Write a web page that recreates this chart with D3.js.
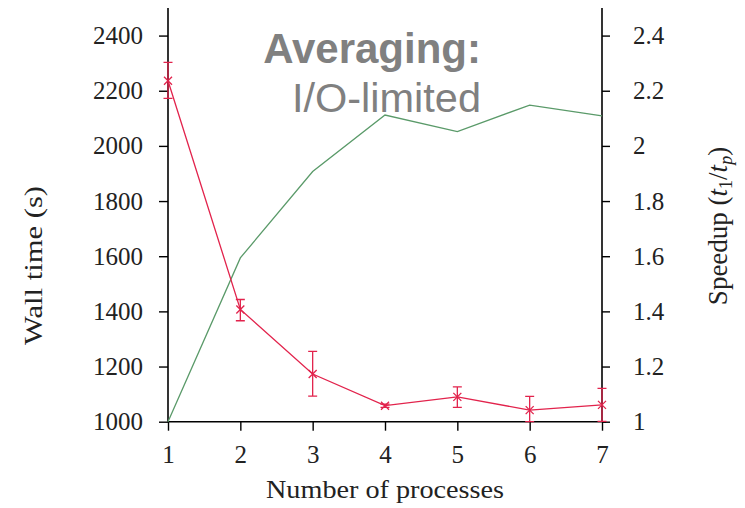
<!DOCTYPE html>
<html><head><meta charset="utf-8">
<script src="https://cdn.jsdelivr.net/npm/d3@7"></script>
<style>body{margin:0;background:#fff}</style>
</head><body>
<svg id="c" width="745" height="508"></svg>
<script>
const processes = [1, 2, 3, 4, 5, 6, 7];
const wallTime = [2236, 1407, 1173, 1058, 1090, 1042, 1061];
const wallLow  = [2172, 1366, 1093, 1052, 1052, 1000, 1001];
const wallHigh = [2303, 1443, 1255, 1064, 1126, 1092, 1121];
const speedup  = [1.0, 1.594, 1.907, 2.112, 2.052, 2.148, 2.109];
const leftTicks = [1000, 1200, 1400, 1600, 1800, 2000, 2200, 2400];
const rightTicks = [1, 1.2, 1.4, 1.6, 1.8, 2, 2.2, 2.4];
const rightTickLabels = ["1", "1.2", "1.4", "1.6", "1.8", "2", "2.2", "2.4"];

const svg = d3.select("#c");
const L = 168, R = 602, T = 8, B = 421.7;
const serif = "'Liberation Serif', 'Times New Roman', serif";
const red = "#e2234c", green = "#5a9a69";

const x = d3.scaleLinear().domain([1, 7]).range([L, R]);
const yL = d3.scaleLinear().domain([1000, 2500]).range([B, T]);
const yR = d3.scaleLinear().domain([1, 2.5]).range([B, T]);

// axes
const gl = svg.append("g").attr("transform", `translate(${L},0)`)
  .call(d3.axisLeft(yL).tickValues(leftTicks).tickSize(9).tickPadding(16).tickFormat(d3.format("d")));
const gr = svg.append("g").attr("transform", `translate(${R},0)`)
  .call(d3.axisRight(yR).tickValues(rightTicks).tickSize(8).tickPadding(23).tickFormat((d,i)=>rightTickLabels[i]));
const gb = svg.append("g").attr("transform", `translate(0,${B})`)
  .call(d3.axisBottom(x).tickValues(processes).tickSize(9).tickPadding(15).tickFormat(d3.format("d")));
[gl, gr, gb].forEach(g => {
  g.select(".domain").attr("stroke", "#000").attr("stroke-width", 1.6);
  g.selectAll(".tick line").attr("stroke", "#000").attr("stroke-width", 1.4);
  g.selectAll(".tick text").attr("font-family", serif).attr("font-size", 25).attr("fill", "#222");
});
gl.select(".domain").attr("d", `M0,${T}V${B}`);
gr.select(".domain").attr("d", `M0,${T}V${B}`);
gb.select(".domain").attr("d", `M${L},0H${R + 4}`);
gb.selectAll(".tick text").attr("dy", "0.71em");

// speedup line
svg.append("path").datum(processes.map((p, i) => [p, speedup[i]]))
  .attr("fill", "none").attr("stroke", green).attr("stroke-width", 1.3)
  .attr("d", d3.line().x(d => x(d[0])).y(d => yR(d[1])));

// wall time line
svg.append("path").datum(processes.map((p, i) => [p, wallTime[i]]))
  .attr("fill", "none").attr("stroke", red).attr("stroke-width", 1.3)
  .attr("d", d3.line().x(d => x(d[0])).y(d => yL(d[1])));

// error bars
const eb = svg.append("g").attr("stroke", red).attr("stroke-width", 1.3).attr("fill", "none");
processes.forEach((p, i) => {
  const cx = x(p), y1 = yL(wallLow[i]), y2 = yL(wallHigh[i]);
  eb.append("path").attr("d", `M${cx},${y1}V${y2}M${cx-4.5},${y1}H${cx+4.5}M${cx-4.5},${y2}H${cx+4.5}`);
  const cy = yL(wallTime[i]), s = 4;
  eb.append("path").attr("d", `M${cx-s},${cy-s}L${cx+s},${cy+s}M${cx-s},${cy+s}L${cx+s},${cy-s}`);
});

// annotation
svg.append("text").attr("x", 481).attr("y", 63).attr("text-anchor", "end")
  .attr("font-family", "'Liberation Sans', Arial, sans-serif").attr("font-weight", "bold")
  .attr("font-size", 42).attr("fill", "#808080").text("Averaging:");
svg.append("text").attr("x", 481).attr("y", 112).attr("text-anchor", "end")
  .attr("font-family", "'Liberation Sans', Arial, sans-serif")
  .attr("font-size", 41.5).attr("fill", "#808080").text("I/O-limited");

// axis titles
svg.append("text").attr("x", (L + R) / 2).attr("y", 498).attr("text-anchor", "middle")
  .attr("font-family", serif).attr("font-size", 25).attr("fill", "#222")
  .attr("textLength", 238).attr("lengthAdjust", "spacingAndGlyphs")
  .text("Number of processes");
svg.append("text").attr("transform", `translate(42,${(186+345)/2}) rotate(-90)`)
  .attr("text-anchor", "middle").attr("font-family", serif).attr("font-size", 25).attr("fill", "#222")
  .attr("textLength", 159).attr("lengthAdjust", "spacingAndGlyphs")
  .text("Wall time (s)");
const sp = svg.append("text").attr("transform", `translate(727,226) rotate(-90)`)
  .attr("text-anchor", "middle").attr("font-family", serif).attr("font-size", 27).attr("fill", "#222");
sp.append("tspan").text("Speedup (");
sp.append("tspan").attr("font-style", "italic").text("t");
sp.append("tspan").attr("font-size", 18).attr("dy", 5).text("1");
sp.append("tspan").attr("dy", -5).text("/");
sp.append("tspan").attr("font-style", "italic").text("t");
sp.append("tspan").attr("font-size", 18).attr("font-style", "italic").attr("dy", 5).text("p");
sp.append("tspan").attr("dy", -5).text(")");
</script>
</body></html>
